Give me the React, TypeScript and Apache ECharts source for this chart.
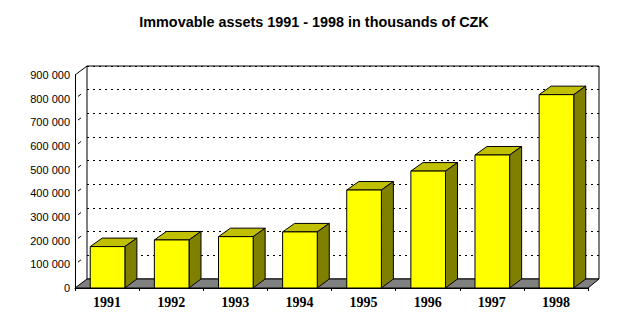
import React, { useEffect, useRef } from "react";
import * as echarts from "echarts";

const TITLE = "Immovable assets 1991 - 1998 in thousands of CZK";
const categories = ["1991", "1992", "1993", "1994", "1995", "1996", "1997", "1998"];
const assetValues = [175000, 203000, 217000, 237000, 414000, 494000, 562000, 817000];
const yTickValues = [100000, 200000, 300000, 400000, 500000, 600000, 700000, 800000, 900000];
const Y_MAX = 900000;
const Y_INTERVAL = 100000;

const WALL_DX = 12;
const WALL_DY = 9;
const BAR_DX = 12;
const BAR_DY = 8.5;

const fmt = (v: number) => {
  if (v === 0) return "0";
  const s = String(Math.round(v));
  return s.replace(/\B(?=(\d{3})+(?!\d))/g, " ");
};

export default function App() {
  const ref = useRef<HTMLDivElement>(null);
  useEffect(() => {
    if (!ref.current) return;
    const chart = echarts.init(ref.current, undefined, { renderer: "svg" });
    const option: any = {
      animation: false,
      backgroundColor: "#ffffff",
      title: {
        text: TITLE,
        left: "center",
        top: 10,
        textStyle: {
          fontFamily: "Liberation Sans",
          fontWeight: "bold",
          fontSize: 14.4,
          color: "#000",
        },
      },
      grid: [
        { left: 75, top: 75, width: 513, height: 213 },
        {
          left: 87,
          top: 66,
          width: 512,
          height: 213,
          show: true,
          backgroundColor: "#fff",
          borderColor: "#000",
          borderWidth: 1,
          z: 0,
        },
      ],
      xAxis: [
        {
          type: "category",
          gridIndex: 0,
          data: categories,
          boundaryGap: true,
          axisLine: { show: true, lineStyle: { color: "#000", width: 1 } },
          axisTick: { show: true, length: 3, lineStyle: { color: "#000" } },
          axisLabel: {
            margin: 7,
            fontFamily: "Liberation Serif",
            fontWeight: "bold",
            fontSize: 14,
            color: "#000",
          },
          z: 5,
        },
        {
          type: "category",
          gridIndex: 1,
          data: categories,
          show: false,
        },
      ],
      yAxis: [
        {
          type: "value",
          gridIndex: 0,
          min: 0,
          max: Y_MAX,
          interval: Y_INTERVAL,
          axisLine: { show: true, lineStyle: { color: "#000", width: 1 } },
          axisTick: { show: false },
          splitLine: { show: false },
          axisLabel: {
            margin: 5,
            fontFamily: "Liberation Sans",
            fontSize: 11,
            color: "#000",
            formatter: (v: number) => fmt(v),
          },
          z: 5,
        },
        {
          type: "value",
          gridIndex: 1,
          min: 0,
          max: Y_MAX,
          interval: Y_INTERVAL,
          axisLine: { show: false },
          axisTick: { show: false },
          axisLabel: { show: false },
          splitLine: {
            show: true,
            lineStyle: { color: "#000", width: 1, type: [2, 4] },
          },
          z: 0,
        },
      ],
      series: [
        {
          type: "line",
          xAxisIndex: 1,
          yAxisIndex: 1,
          data: [],
          silent: true,
        },
        {
          // side wall tick marks
          type: "custom",
          xAxisIndex: 0,
          yAxisIndex: 0,
          silent: true,
          z: 3,
          data: yTickValues.map((v) => [0, v]),
          renderItem: (params: any, api: any) => {
            const cs = params.coordSys;
            const v = api.value(1);
            const y = api.coord([0, v])[1];
            const x = cs.x;
            if (v >= Y_MAX) {
              return {
                type: "line",
                shape: { x1: x, y1: y, x2: x + WALL_DX, y2: y - WALL_DY },
                style: { stroke: "#000", lineWidth: 1 },
              };
            }
            return {
              type: "line",
              shape: {
                x1: x + WALL_DX * 0.25,
                y1: y - WALL_DY * 0.25,
                x2: x + WALL_DX * 0.5,
                y2: y - WALL_DY * 0.5,
              },
              style: { stroke: "#000", lineWidth: 1 },
            };
          },
        },
        {
          // floor
          type: "custom",
          xAxisIndex: 0,
          yAxisIndex: 0,
          silent: true,
          z: 3,
          data: [[0, 0]],
          renderItem: (params: any, api: any) => {
            const cs = params.coordSys;
            const y0 = api.coord([0, 0])[1];
            const xl = cs.x;
            const xr = cs.x + cs.width;
            return {
              type: "polygon",
              shape: {
                points: [
                  [xl, y0],
                  [xr, y0],
                  [xr + WALL_DX - 1, y0 - WALL_DY],
                  [xl + WALL_DX, y0 - WALL_DY],
                ],
              },
              style: { fill: "#808080", stroke: "#000", lineWidth: 1 },
            };
          },
        },
        {
          // 3D bars
          type: "custom",
          xAxisIndex: 0,
          yAxisIndex: 0,
          z: 4,
          encode: { x: 0, y: 1 },
          data: assetValues.map((v, i) => [i, v]),
          renderItem: (params: any, api: any) => {
            const idx = api.value(0);
            const v = api.value(1);
            const top = api.coord([idx, v]);
            const base = api.coord([idx, 0]);
            const w = api.size([1, 0])[0] * 0.54;
            const x0 = top[0] - w / 2 + 0.5;
            const x1 = top[0] + w / 2 + 0.5;
            const yT = top[1];
            const yB = base[1];
            return {
              type: "group",
              children: [
                {
                  type: "polygon",
                  shape: {
                    points: [
                      [x0, yT],
                      [x1, yT],
                      [x1 + BAR_DX, yT - BAR_DY],
                      [x0 + BAR_DX, yT - BAR_DY],
                    ],
                  },
                  style: { fill: "#C0C000", stroke: "#000", lineWidth: 1 },
                },
                {
                  type: "polygon",
                  shape: {
                    points: [
                      [x1, yT],
                      [x1 + BAR_DX, yT - BAR_DY],
                      [x1 + BAR_DX, yB - WALL_DY],
                      [x1, yB],
                    ],
                  },
                  style: { fill: "#808000", stroke: "#000", lineWidth: 1 },
                },
                {
                  type: "rect",
                  shape: { x: x0, y: yT, width: x1 - x0, height: yB - yT },
                  style: { fill: "#FFFF00", stroke: "#000", lineWidth: 1 },
                },
              ],
            };
          },
        },
      ],
    };
    chart.setOption(option);
    return () => chart.dispose();
  }, []);
  return (
    <div
      ref={ref}
      style={{ position: "fixed", left: 0, top: 0, width: 628, height: 329 }}
    />
  );
}
